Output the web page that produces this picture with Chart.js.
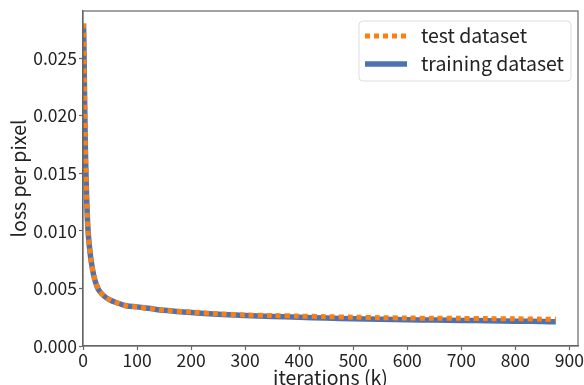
<!DOCTYPE html>
<html>
<head>
<meta charset="utf-8">
<script src="https://cdn.jsdelivr.net/npm/chart.js@4.4.0/dist/chart.umd.min.js"></script>
<style>
  html, body { margin: 0; padding: 0; background: #fff; }
  #wrap { width: 584px; height: 385px; }
</style>
</head>
<body>
<div id="wrap"><canvas id="lossChart" width="584" height="385"></canvas></div>
<script>
// Data (x in thousands of iterations)
const iterations = [1, 2, 4, 6, 8, 10, 12, 15, 20, 25, 30, 40, 50, 60, 80, 100, 125, 150, 200, 250, 300, 350, 400, 450, 500, 550, 600, 650, 700, 750, 800, 850, 875];
const trainLoss = [0.0280, 0.0250, 0.0180, 0.0140, 0.0112, 0.0096, 0.0086, 0.0074, 0.0061, 0.0053, 0.0048, 0.0043, 0.0040, 0.0038, 0.0035, 0.0034, 0.00325, 0.0031, 0.0029, 0.00275, 0.00265, 0.00257, 0.0025, 0.00243, 0.00237, 0.00232, 0.00228, 0.00225, 0.00222, 0.00219, 0.00216, 0.00212, 0.00211];
const testLoss = [0.0280, 0.0250, 0.0180, 0.0140, 0.0112, 0.0096, 0.0086, 0.0074, 0.0061, 0.0053, 0.0048, 0.0043, 0.0040, 0.0038, 0.0035, 0.0034, 0.00325, 0.0031, 0.00295, 0.0028, 0.0027, 0.00265, 0.0026, 0.00255, 0.0025, 0.00246, 0.00243, 0.00241, 0.0024, 0.00238, 0.00236, 0.00233, 0.00232];
const xTicks = [0, 100, 200, 300, 400, 500, 600, 700, 800, 900];
const yTicks = [0, 0.005, 0.010, 0.015, 0.020, 0.025];

const FONT = "'Noto Sans CJK JP', 'Noto Sans', sans-serif";
const BLUE = '#4c72b0';
const ORANGE = '#ff7f0e';
const SPINE = '#666';

const toPoints = ys => iterations.map((x, i) => ({ x: x, y: ys[i] }));

// Frame on all four sides + legend inside the plot
const framePlugin = {
    id: 'frame',
    afterDatasetsDraw(chart) {
        const { ctx, chartArea: a } = chart;
        ctx.save();
        ctx.strokeStyle = SPINE;
        ctx.lineWidth = 1.2;
        ctx.strokeRect(a.left, a.top, a.right - a.left, a.bottom - a.top);

        // legend box
        const bx = 359, by = 21, bw = 212, bh = 60, r = 4;
        ctx.fillStyle = 'rgba(255,255,255,0.85)';
        ctx.strokeStyle = '#ddd';
        ctx.lineWidth = 1;
        ctx.beginPath();
        ctx.roundRect(bx, by, bw, bh, r);
        ctx.fill();
        ctx.stroke();

        const items = chart.data.datasets;
        const rows = [36, 64];
        items.forEach((ds, i) => {
            const y = rows[i];
            ctx.beginPath();
            ctx.strokeStyle = ds.borderColor;
            ctx.lineWidth = ds.borderWidth;
            ctx.setLineDash(ds.borderDash || []);
            ctx.moveTo(365, y);
            ctx.lineTo(407, y);
            ctx.stroke();
            ctx.setLineDash([]);
            ctx.fillStyle = '#222';
            ctx.font = '19.5px ' + FONT;
            ctx.textBaseline = 'middle';
            ctx.fillText(ds.label, 421, y);
        });
        ctx.restore();
    }
};

new Chart(document.getElementById('lossChart'), {
    type: 'scatter',
    data: {
        datasets: [
            {
                label: 'test dataset',
                data: toPoints(testLoss),
                showLine: true,
                borderColor: ORANGE,
                borderWidth: 5,
                borderDash: [5, 4],
                pointRadius: 0,
                tension: 0.3,
                fill: false
            },
            {
                label: 'training dataset',
                data: toPoints(trainLoss),
                showLine: true,
                borderColor: BLUE,
                borderWidth: 5.5,
                pointRadius: 0,
                tension: 0.3,
                fill: false
            }
        ]
    },
    options: {
        responsive: false,
        animation: false,
        layout: { padding: { top: 11, right: 6, left: 0, bottom: 0 } },
        plugins: {
            legend: { display: false },
            tooltip: { enabled: false }
        },
        scales: {
            x: {
                type: 'linear',
                min: 0,
                max: 916,
                afterBuildTicks: scale => { scale.ticks = xTicks.map(v => ({ value: v })); },
                afterFit: scale => { scale.height = 39; scale.paddingLeft = 0; scale.paddingRight = 0; },
                ticks: {
                    color: '#222',
                    font: { family: FONT, size: 17.5 },
                    padding: 0,
                    maxRotation: 0,
                    autoSkip: false,
                    callback: v => String(v)
                },
                grid: { drawOnChartArea: false, color: SPINE, tickLength: 4, tickWidth: 1.2 },
                border: { color: SPINE, width: 1.2 },
                title: { display: true, text: 'iterations (k)', color: '#222', font: { family: FONT, size: 19.5 }, padding: { top: 0, bottom: -4 } }
            },
            y: {
                type: 'linear',
                min: 0,
                max: 0.0291,
                afterBuildTicks: scale => { scale.ticks = yTicks.map(v => ({ value: v })); },
                afterFit: scale => { scale.width = 83; scale.paddingTop = 0; scale.paddingBottom = 0; },
                ticks: {
                    color: '#222',
                    font: { family: FONT, size: 17.5 },
                    padding: 2,
                    autoSkip: false,
                    callback: v => v.toFixed(3)
                },
                grid: { drawOnChartArea: false, color: SPINE, tickLength: 4, tickWidth: 1.2 },
                border: { color: SPINE, width: 1.2 },
                title: { display: true, text: 'loss per pixel', color: '#222', font: { family: FONT, size: 19.5 }, padding: { top: 7, bottom: 0 } }
            }
        }
    },
    plugins: [framePlugin]
});
</script>
</body>
</html>
